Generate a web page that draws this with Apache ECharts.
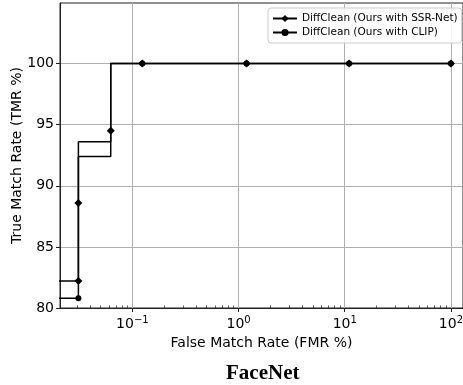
<!DOCTYPE html>
<html>
<head>
<meta charset="utf-8">
<script src="https://cdn.jsdelivr.net/npm/echarts@6/dist/echarts.min.js"></script>
<style>
  html, body { margin: 0; padding: 0; background: #fff; }
  #chart { width: 463px; height: 385px; }
</style>
</head>
<body>
<div id="chart"></div>
<script>
// ROC points (FMR %, TMR %); show* says whether a marker is drawn
const fmrSSR = [0.01, 0.031, 0.031, 0.031, 0.0625, 0.0625, 0.124, 1.19, 11, 100];
const tmrSSR = [82.2, 82.2, 88.6, 93.6, 94.5, 100, 100, 100, 100, 100];
const showSSR = [false, true, true, false, true, false, true, true, true, true];

const fmrCLIP = [0.01, 0.031, 0.031, 0.0625, 0.124, 1.19, 11, 100];
const tmrCLIP = [80.8, 80.8, 92.4, 100, 100, 100, 100, 100];
const showCLIP = [false, true, false, false, true, true, true, true];

const yTicks = [80, 85, 90, 95, 100];
const xTicks = [0.1, 1, 10, 100];
const seriesNames = ['DiffClean (Ours with SSR-Net)', 'DiffClean (Ours with CLIP)'];

// minor log ticks 2..9 x 10^k
const minorTicks = [];
for (let k = -2; k <= 2; k++) {
    for (let m = 2; m <= 9; m++) {
        minorTicks.push(+(m * Math.pow(10, k)).toPrecision(3));
    }
}

function buildData(xs, ys, show) {
    return xs.map((x, i) => show[i] ? [x, ys[i]] : { value: [x, ys[i]], symbol: 'none' });
}

const font = 'DejaVu Sans';
const chart = echarts.init(document.getElementById('chart'));

chart.setOption({
    animation: false,
    title: {
        text: 'FaceNet',
        left: 221,
        top: 358,
        textStyle: { fontFamily: 'Liberation Serif', fontWeight: 'bold', fontSize: 21, color: '#000' }
    },
    grid: {
        left: 60, right: 0, top: 3, bottom: 77,
        outerBoundsMode: 'none',
        show: true, borderColor: '#222', borderWidth: 1
    },
    legend: {
        data: seriesNames,
        orient: 'vertical',
        left: 268,
        top: 8,
        backgroundColor: 'rgba(255,255,255,0.85)',
        borderColor: '#ccc',
        borderWidth: 1,
        borderRadius: 3,
        padding: [5, 4, 5, 4],
        itemGap: 3,
        itemWidth: 24,
        itemHeight: 9,
        textStyle: { fontFamily: font, fontSize: 10.5, color: '#000' }
    },
    xAxis: [{
        type: 'log',
        logBase: 10,
        min: 0.0208,
        max: 130,
        name: 'False Match Rate (FMR %)',
        nameLocation: 'middle',
        nameGap: 26,
        nameTextStyle: { fontFamily: font, fontSize: 14, color: '#000' },
        axisLine: { lineStyle: { color: '#222' } },
        axisTick: { customValues: xTicks, length: 4, lineStyle: { color: '#222' } },
        axisLabel: {
            customValues: xTicks,
            fontFamily: font, fontSize: 14, color: '#000', margin: 7,
            formatter: v => {
                const e = Math.round(Math.log10(v));
                return '10{sup|' + String(e).replace('-', '\u2212') + '}';
            },
            rich: { sup: { fontFamily: font, fontSize: 10, verticalAlign: 'top', padding: [0, 0, 8, 0], color: '#000' } }
        },
        splitLine: { show: true, lineStyle: { color: '#b0b0b0', width: 1 } }
    }, {
        // minor ticks only
        type: 'log',
        logBase: 10,
        show: true,
        min: 0.0208,
        max: 130,
        position: 'bottom',
        offset: 0,
        axisLine: { show: false },
        axisTick: { show: true, inside: true, customValues: minorTicks, length: 2.5, lineStyle: { color: '#333', width: 0.8 } },
        axisLabel: { show: false },
        splitLine: { show: false }
    }],
    yAxis: {
        type: 'value',
        min: 80,
        max: 104.96,
        interval: 5,
        name: 'True Match Rate (TMR %)',
        nameLocation: 'middle',
        nameGap: 36,
        nameMoveOverlap: false,
        nameTextStyle: { fontFamily: font, fontSize: 14, color: '#000' },
        axisLine: { show: true, lineStyle: { color: '#222' } },
        axisTick: { show: true, customValues: yTicks, length: 4, lineStyle: { color: '#222' } },
        axisLabel: {
            customValues: yTicks,
            fontFamily: font, fontSize: 14, color: '#000', margin: 6
        },
        splitLine: { show: true, lineStyle: { color: '#b0b0b0', width: 1 } }
    },
    series: [{
        name: seriesNames[1],
        type: 'line',
        step: 'end',
        symbol: 'circle',
        symbolSize: 6,
        data: buildData(fmrCLIP, tmrCLIP, showCLIP),
        lineStyle: { color: '#000', width: 1.5 },
        itemStyle: { color: '#000' }
    }, {
        name: seriesNames[0],
        type: 'line',
        step: 'end',
        symbol: 'diamond',
        symbolSize: 8,
        data: buildData(fmrSSR, tmrSSR, showSSR),
        lineStyle: { color: '#000', width: 1.5 },
        itemStyle: { color: '#000' }
    }]
});
</script>
</body>
</html>
